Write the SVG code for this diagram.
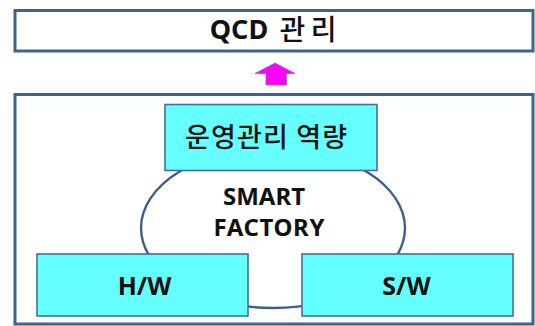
<svg xmlns="http://www.w3.org/2000/svg" width="535" height="326" viewBox="0 0 535 326">
  <style>
    .frame { fill: #ffffff; stroke: #3d6390; stroke-width: 3; }
    .cell { fill: #66ffff; stroke: #41719c; stroke-width: 1.6; }
    .hub { fill: #ffffff; stroke: #3d5f88; stroke-width: 2.4; }
    .lbl { font-family: "Noto Sans", "Noto Sans CJK KR", sans-serif; font-weight: bold; fill: #111111; text-anchor: middle; }
    .kr { font-family: "Noto Sans CJK KR", "Noto Sans", sans-serif; font-weight: 500; fill: #111111; text-anchor: middle; }
  </style>
  <rect width="535" height="326" fill="#ffffff"/>

  <g id="qcd">
    <rect class="frame" x="15" y="10.5" width="518" height="40.5"/>
    <text class="lbl" x="239" y="39" font-size="27">QCD</text>
    <text class="kr" x="308" y="39.5" font-size="28" font-weight="bold" textLength="57" lengthAdjust="spacing">관리</text>
  </g>

  <g id="connectors">
    <polygon points="275,63 295,73.5 286.5,73.5 286.5,85 266,85 266,73.5 255,73.5" fill="#ff00ff" stroke="#7a6fa8" stroke-width="0.8"/>
  </g>

  <g id="platform">
    <rect class="frame" x="15" y="94.5" width="518" height="229.5"/>
  </g>

  <g id="smart-factory">
    <ellipse class="hub" cx="273" cy="228" rx="132" ry="80"/>
    <text class="lbl" x="264" y="205" font-size="24">SMART</text>
    <text class="lbl" x="269" y="235.5" font-size="24" textLength="111" lengthAdjust="spacing">FACTORY</text>
  </g>

  <g id="operations">
    <rect class="cell" x="165" y="104.5" width="212" height="66"/>
    <text class="kr" x="266" y="147" font-size="27" textLength="162" lengthAdjust="spacing">운영관리 역량</text>
  </g>

  <g id="hw">
    <rect class="cell" x="37" y="254" width="211" height="62"/>
    <text class="lbl" x="144.5" y="294.5" font-size="25">H/W</text>
  </g>

  <g id="sw">
    <rect class="cell" x="302" y="254" width="211" height="62"/>
    <text class="lbl" x="406.5" y="294.5" font-size="25">S/W</text>
  </g>
</svg>
